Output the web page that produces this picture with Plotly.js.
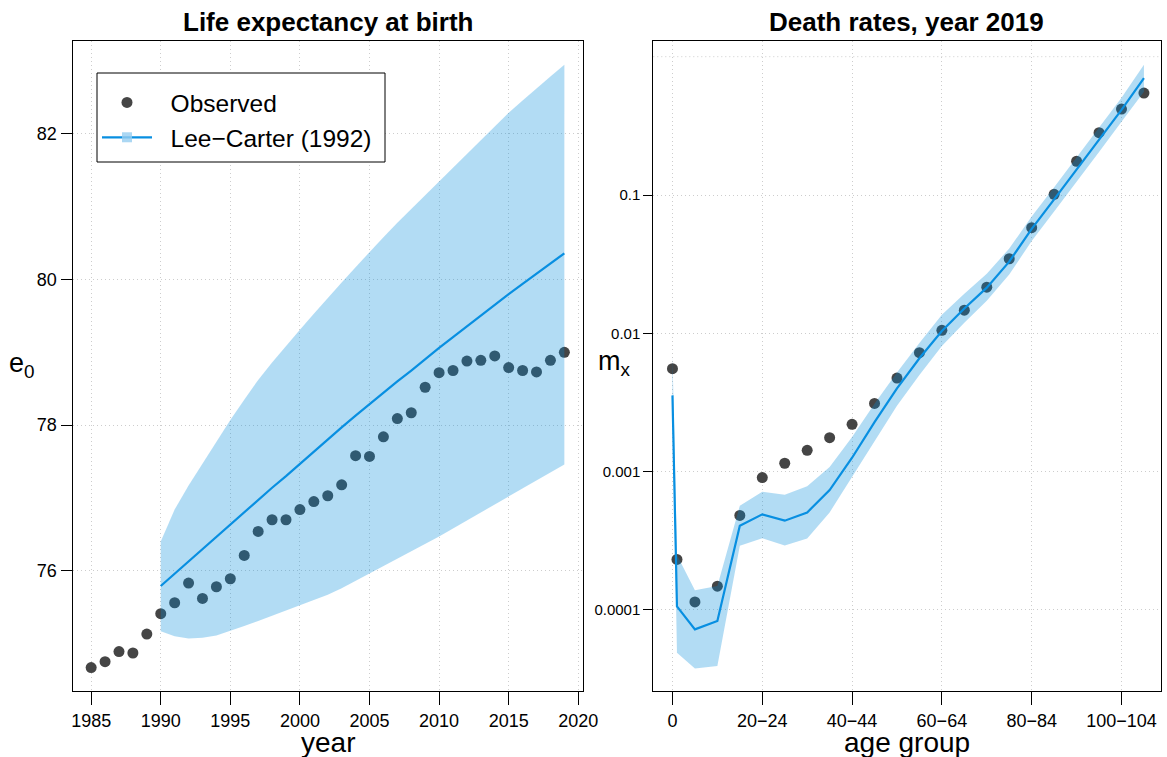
<!DOCTYPE html>
<html>
<head>
<meta charset="utf-8">
<script src="https://cdn.plot.ly/plotly-3.0.1.min.js"></script>
<style>html,body{margin:0;padding:0;background:#fff;}#chart{width:1167px;height:757px;}</style>
</head>
<body>
<div id="chart"></div>
<script>
// ---------- Left panel data: life expectancy at birth ----------
const years = [1985,1986,1987,1988,1989,1990,1991,1992,1993,1994,1995,1996,1997,1998,1999,2000,2001,2002,2003,2004,2005,2006,2007,2008,2009,2010,2011,2012,2013,2014,2015,2016,2017,2018,2019];
const e0Observed = [74.67,74.75,74.89,74.87,75.13,75.41,75.56,75.83,75.62,75.78,75.89,76.21,76.54,76.70,76.70,76.84,76.95,77.03,77.18,77.58,77.57,77.84,78.09,78.17,78.52,78.72,78.75,78.88,78.89,78.95,78.79,78.75,78.73,78.89,79.00];
const fcYears = [1990,1991,1992,1993,1994,1995,1996,1997,1998,1999,2000,2001,2002,2003,2004,2005,2006,2007,2008,2009,2010,2011,2012,2013,2014,2015,2016,2017,2018,2019];
const e0Fitted = [75.79,75.96,76.13,76.30,76.47,76.63,76.80,76.97,77.14,77.30,77.47,77.64,77.81,77.97,78.13,78.29,78.44,78.60,78.75,78.91,79.06,79.21,79.36,79.51,79.65,79.80,79.94,80.08,80.22,80.36];
const e0Upper = [76.40,76.84,77.17,77.47,77.78,78.07,78.35,78.62,78.86,79.09,79.31,79.53,79.75,79.96,80.17,80.38,80.58,80.78,80.97,81.16,81.35,81.54,81.73,81.92,82.11,82.29,82.46,82.63,82.79,82.95];
const e0Lower = [75.17,75.10,75.07,75.08,75.11,75.17,75.24,75.31,75.38,75.45,75.52,75.59,75.67,75.76,75.86,75.96,76.06,76.16,76.26,76.36,76.47,76.58,76.69,76.80,76.91,77.03,77.14,77.25,77.36,77.46];
const yearTicks = [1985,1990,1995,2000,2005,2010,2015,2020];
const e0Ticks = [76,78,80,82];

// ---------- Right panel data: death rates, 2019 ----------
const ages = [0,1,5,10,15,20,25,30,35,40,45,50,55,60,65,70,75,80,85,90,95,100,105];
const mxObserved = [0.00555,0.000232,0.0001143,0.0001486,0.000482,0.000906,0.00115,0.001426,0.00176,0.0022,0.00311,0.00475,0.00725,0.01051,0.01469,0.02155,0.0346,0.058,0.1011,0.1754,0.2825,0.418,0.546];
const mxFitted = [0.00356,0.000106,0.0000724,0.0000832,0.000406,0.000491,0.000442,0.000507,0.000736,0.00126,0.00228,0.0040,0.0066,0.0104,0.0151,0.0214,0.0330,0.0570,0.0930,0.152,0.250,0.413,0.700];
const mxUpper = [0.0069,0.00025,0.000139,0.000149,0.000567,0.000716,0.00068,0.000783,0.00108,0.00178,0.0031,0.0052,0.0085,0.0136,0.0193,0.0270,0.0410,0.0700,0.1140,0.186,0.305,0.505,0.875];
const mxLower = [0.0028,0.000049,0.0000378,0.0000393,0.000291,0.00033,0.000292,0.000329,0.000507,0.00091,0.00165,0.0030,0.0050,0.0081,0.0119,0.0172,0.0266,0.0465,0.0760,0.124,0.205,0.338,0.557];
const ageTickVals = [0,20,40,60,80,100];
const ageTickText = ['0','20\u221224','40\u221244','60\u221264','80\u221284','100\u2212104'];
const mxTickVals = [0.0001,0.001,0.01,0.1];
const mxTickText = ['0.0001','0.001','0.01','0.1'];
const legendNames = ['Observed','Lee\u2212Carter (1992)'];

// ---------- Styling ----------
const FONT = 'Liberation Sans, Arial, Helvetica, sans-serif';
const DOT = '#454545';
const LINE = 'rgb(8,143,225)';
const BAND = 'rgba(0,140,220,0.3)';
const GRID = 'rgb(205,205,205)';
const GRIDDASH = '1px,3px';
const PAD = '\u00a0\u00a0';

const traces = [
  {x: years, y: e0Observed, xaxis:'x', yaxis:'y', type:'scatter', mode:'markers', name:PAD+legendNames[0],
   marker:{color:DOT, size:11}},
  {x: fcYears, y: e0Lower, xaxis:'x', yaxis:'y', type:'scatter', mode:'lines', line:{width:0, color:BAND},
   showlegend:false, hoverinfo:'skip'},
  {x: fcYears, y: e0Upper, xaxis:'x', yaxis:'y', type:'scatter', mode:'lines', line:{width:0, color:BAND},
   fill:'tonexty', fillcolor:BAND, showlegend:false, hoverinfo:'skip'},
  {x: fcYears, y: e0Fitted, xaxis:'x', yaxis:'y', type:'scatter', mode:'lines', showlegend:false,
   line:{color:LINE, width:2.2}},
  // legend-only entry for the fitted series (line + band swatch)
  {x: [null], y: [null], xaxis:'x', yaxis:'y', type:'scatter', mode:'lines+markers', name:PAD+legendNames[1],
   line:{color:LINE, width:2.2}, marker:{size:10, symbol:'square', color:'rgba(150,205,240,0.8)', line:{width:0}}},

  {x: ages, y: mxObserved, xaxis:'x2', yaxis:'y2', type:'scatter', mode:'markers', showlegend:false,
   marker:{color:DOT, size:11}},
  {x: ages, y: mxLower, xaxis:'x2', yaxis:'y2', type:'scatter', mode:'lines', line:{width:0, color:BAND},
   showlegend:false, hoverinfo:'skip'},
  {x: ages, y: mxUpper, xaxis:'x2', yaxis:'y2', type:'scatter', mode:'lines', line:{width:0, color:BAND},
   fill:'tonexty', fillcolor:BAND, showlegend:false, hoverinfo:'skip'},
  {x: ages, y: mxFitted, xaxis:'x2', yaxis:'y2', type:'scatter', mode:'lines', showlegend:false,
   line:{color:LINE, width:2.2}}
];

const axisCommon = {
  showline:true, linecolor:'#000', linewidth:1, mirror:true,
  ticks:'outside', ticklen:11, tickcolor:'#000', tickwidth:1,
  showgrid:true, gridcolor:GRID, griddash:GRIDDASH, gridwidth:1,
  zeroline:false, tickfont:{family:FONT, size:18, color:'#000'}
};

const yDom = [66/757, 716/757];
const P = (px, py) => [px/1167, (757-py)/757];

const layout = {
  width:1167, height:757,
  margin:{l:0, r:0, t:0, b:0},
  paper_bgcolor:'#fff', plot_bgcolor:'#fff',
  font:{family:FONT, color:'#000'},
  showlegend:true,
  legend:{x:97/1167, y:(757-80)/757, xanchor:'left', yanchor:'top', traceorder:'normal',
          borderwidth:0, bgcolor:'rgba(0,0,0,0)',
          font:{family:FONT, size:24.5, color:'#000'}, itemsizing:'trace', itemwidth:50},
  xaxis: Object.assign({}, axisCommon, {domain:[72.5/1167, 583/1167], range:[1983.66, 2020.34],
          tickmode:'array', tickvals:yearTicks, anchor:'y', ticklen:13}),
  yaxis: Object.assign({}, axisCommon, {domain:yDom, range:[74.348, 83.276],
          tickmode:'array', tickvals:e0Ticks, anchor:'x'}),
  xaxis2: Object.assign({}, axisCommon, {domain:[653.3/1167, 1161/1167], range:[-4.27, 108.8],
          tickmode:'array', tickvals:ageTickVals, ticktext:ageTickText, anchor:'y2', ticklen:13}),
  yaxis2: Object.assign({}, axisCommon, {domain:yDom, type:'log', range:[-4.586, 0.1135],
          tickmode:'array', tickvals:mxTickVals, ticktext:mxTickText, anchor:'x2', ticklen:9,
          tickfont:{family:FONT, size:15, color:'#000'}}),
  shapes:[
    {type:'line', xref:'x2 domain', yref:'y2', x0:0, x1:1, y0:1, y1:1,
     line:{color:GRID, width:1, dash:GRIDDASH}, layer:'below'},
    {type:'rect', xref:'paper', yref:'paper', x0:P(97,0)[0], x1:P(385,0)[0], y0:P(0,162)[1], y1:P(0,73)[1],
     line:{color:'#000', width:1}, fillcolor:'#fff', layer:'above'}
  ],
  annotations:[
    {text:'<b>Life expectancy at birth</b>', xref:'paper', yref:'paper', x:P(327.75,0)[0], y:P(0,22)[1],
     showarrow:false, font:{family:FONT, size:26, color:'#000'}, xanchor:'center', yanchor:'middle'},
    {text:'<b>Death rates, year 2019</b>', xref:'paper', yref:'paper', x:P(907,0)[0], y:P(0,22)[1],
     showarrow:false, font:{family:FONT, size:26, color:'#000'}, xanchor:'center', yanchor:'middle'},
    {text:'year', xref:'paper', yref:'paper', x:P(327.75,0)[0], y:P(0,742)[1],
     showarrow:false, font:{family:FONT, size:28, color:'#000'}, xanchor:'center', yanchor:'middle'},
    {text:'age group', xref:'paper', yref:'paper', x:P(907,0)[0], y:P(0,742)[1],
     showarrow:false, font:{family:FONT, size:28, color:'#000'}, xanchor:'center', yanchor:'middle'},
    {text:'e<sub>0</sub>', xref:'paper', yref:'paper', x:P(22,0)[0], y:P(0,365)[1],
     showarrow:false, font:{family:FONT, size:27, color:'#000'}, xanchor:'center', yanchor:'middle'},
    {text:'m<sub>x</sub>', xref:'paper', yref:'paper', x:P(614,0)[0], y:P(0,363)[1],
     showarrow:false, font:{family:FONT, size:27, color:'#000'}, xanchor:'center', yanchor:'middle'}
  ]
};

Plotly.newPlot('chart', traces, layout, {displayModeBar:false, staticPlot:true});
</script>
</body>
</html>
